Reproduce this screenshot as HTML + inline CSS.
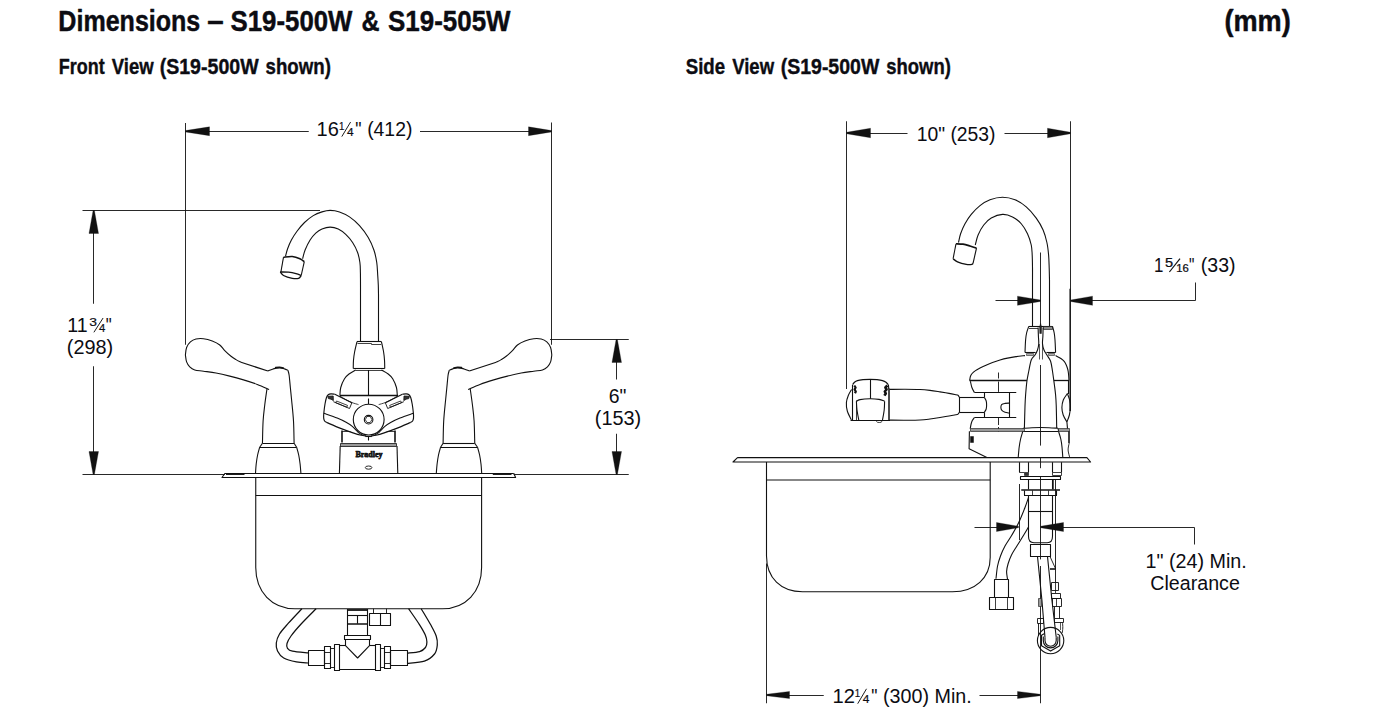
<!DOCTYPE html>
<html><head><meta charset="utf-8">
<style>
html,body{margin:0;padding:0;background:#fff;}
body{width:1392px;height:728px;overflow:hidden;position:relative;font-family:"Liberation Sans",sans-serif;color:#0c0c12;}
.t{position:absolute;white-space:nowrap;transform-origin:0 0;font-weight:bold;line-height:1;}
svg{position:absolute;left:0;top:0;}
svg text{font-family:"Liberation Sans",sans-serif;fill:#0c0c12;}
</style></head><body>
<svg width="1392" height="728" viewBox="0 0 1392 728" fill="none" stroke="#111" stroke-width="1.1" stroke-linecap="butt" stroke-linejoin="round">
<g stroke-width="0.9">
<path d="M185.5,123 L185.5,344.75"/>
<path d="M551.5,122.5 L551.5,344.75"/>
<path d="M208,131.5 L308.75,131.5"/>
<path d="M420,131.5 L529,131.5"/>
<path d="M82.5,210.5 L320,210.5"/>
<path d="M93.5,232 L93.5,303.75"/>
<path d="M93.5,366.25 L93.5,452"/>
<path d="M82.5,474.5 L225,474.5"/>
<path d="M513.75,474.5 L628.75,474.5"/>
<path d="M550,339.5 L628.75,339.5"/>
<path d="M616.5,361 L616.5,379.5"/>
<path d="M616.5,433.75 L616.5,452"/>
</g>
<path d="M185.5,130.6 L209.5,126.85 L209.5,135.65 L185.5,131.9 Z" stroke-width="0.3" fill="#111"/>
<path d="M551.5,131.9 L528.5,135.65 L528.5,126.85 L551.5,130.6 Z" stroke-width="0.3" fill="#111"/>
<path d="M94.4,210.5 L98.5,233.5 L89,233.5 L93.1,210.5 Z" stroke-width="0.3" fill="#111"/>
<path d="M93.1,474.5 L89,451.5 L98.5,451.5 L94.4,474.5 Z" stroke-width="0.3" fill="#111"/>
<path d="M617.4,339.5 L621.5,362.5 L612,362.5 L616.1,339.5 Z" stroke-width="0.3" fill="#111"/>
<path d="M616.1,474.5 L612,451.5 L621.5,451.5 L617.4,474.5 Z" stroke-width="0.3" fill="#111"/>
<path d="M285.5,256.25 C285.85,255 286.62,251.46 287.6,248.75 C288.58,246.04 289.83,242.92 291.4,240 C292.97,237.08 294.82,234.17 297,231.25 C299.18,228.33 301.79,225.11 304.5,222.5 C307.21,219.89 310.33,217.37 313.25,215.6 C316.17,213.83 319.19,212.77 322,211.9 C324.81,211.03 327.18,210.4 330.1,210.4 C333.02,210.4 336.27,210.82 339.5,211.9 C342.73,212.98 346.17,214.62 349.5,216.9 C352.83,219.18 356.38,222.17 359.5,225.6 C362.62,229.03 365.85,233.43 368.25,237.5 C370.65,241.57 372.48,245.83 373.9,250 C375.32,254.17 376.12,258.33 376.75,262.5 C377.38,266.67 377.44,271.25 377.7,275 C377.96,278.75 378.17,281.67 378.3,285 C378.43,288.33 378.47,293.33 378.5,295"/>
<path d="M378.5,295 L378.5,341"/>
<path d="M302.6,258.75 C303.02,257.29 303.85,253.12 305.1,250 C306.35,246.88 308.33,242.82 310.1,240 C311.88,237.18 313.77,234.93 315.75,233.1 C317.73,231.27 319.61,230 322,229 C324.39,228 327.39,227.1 330.1,227.1 C332.81,227.1 335.64,227.78 338.25,229 C340.86,230.22 343.36,232.15 345.75,234.4 C348.14,236.65 350.62,239.48 352.6,242.5 C354.58,245.52 356.38,249.17 357.6,252.5 C358.82,255.83 359.43,259.17 359.9,262.5 C360.37,265.83 360.3,268.75 360.4,272.5 C360.5,276.25 360.48,281.25 360.5,285 C360.52,288.75 360.5,293.33 360.5,295"/>
<path d="M360.5,295 L360.5,341"/>
<path d="M283.5,257.2 C284.97,257.08 289.57,256.25 292.3,256.5 C295.03,256.75 297.9,257.85 299.9,258.7 C301.9,259.55 303.57,261.12 304.3,261.6" stroke-width="1.6"/>
<path d="M283.5,257.2 L280.9,272"/>
<path d="M304.3,261.6 L301.2,275.5"/>
<path d="M280.3,272 C281.67,272.03 285.88,271.93 288.5,272.2 C291.12,272.47 293.88,273.05 296,273.6 C298.12,274.15 300.33,275.18 301.2,275.5" stroke-width="1.3"/>
<path d="M280.3,272 C280.83,272.58 281.5,274.45 283.5,275.5 C285.5,276.55 289.78,277.83 292.3,278.3 C294.82,278.77 297.12,278.77 298.6,278.3 C300.08,277.83 300.77,275.97 301.2,275.5" stroke-width="1.3"/>
<path d="M357,341.5 L381.4,341.5"/>
<path d="M357.5,343.5 L371.5,343.5 L371.5,344.5 L381.2,344.5" stroke-width="0.8"/>
<path d="M357,341.6 C356.6,343.33 355.18,348.93 354.6,352 C354.02,355.07 353.73,357.25 353.5,360 C353.27,362.75 353.29,367.08 353.25,368.5"/>
<path d="M381.4,341.6 C381.77,343.33 383.08,348.93 383.6,352 C384.12,355.07 384.31,357.25 384.5,360 C384.69,362.75 384.71,367.08 384.75,368.5"/>
<path d="M353.25,368.5 L384.75,368.5"/>
<path d="M355.75,370.5 L383.25,370.5" stroke-width="0.8"/>
<path d="M355.75,370 C354.62,370.67 350.88,372.54 349,374 C347.12,375.46 345.88,376.5 344.5,378.75 C343.12,381 341.52,384.69 340.75,387.5 C339.98,390.31 340.04,394.25 339.9,395.6"/>
<path d="M381.45,370 C382.58,370.67 386.33,372.54 388.2,374 C390.08,375.46 391.33,376.5 392.7,378.75 C394.08,381 395.68,384.69 396.45,387.5 C397.22,390.31 397.16,394.25 397.3,395.6"/>
<path d="M339.9,395.5 L398,395.5" stroke-width="1.4"/>
<path d="M368.5,370 L368.5,396"/>
<path d="M368.5,398.5 L368.5,404"/>
<path d="M351.9,402.7 L334.8,394.26" stroke-width="1.15"/>
<path d="M334.8,394.26 C334.17,394.2 332.1,393.81 331,393.9 C329.9,393.99 328.95,394.2 328.2,394.8 C327.45,395.4 327.03,395.97 326.5,397.5 C325.97,399.03 325.45,401.37 325,404 C324.55,406.63 324.02,410.95 323.8,413.3 C323.58,415.65 323.57,416.82 323.7,418.1 C323.83,419.38 324.07,420.25 324.6,421 C325.13,421.75 326.52,422.33 326.9,422.6" stroke-width="1.15"/>
<path d="M326.9,422.6 C329.18,423.57 336.25,426.68 340.6,428.4 C344.95,430.12 349.57,431.75 353,432.9 C356.43,434.05 359.03,434.8 361.2,435.3 C363.37,435.8 365.2,435.8 366,435.9" stroke-width="1.15"/>
<path d="M323.8,413.3 C326.03,414.1 333.48,416.6 337.2,418.1 C340.92,419.6 343.58,420.92 346.1,422.3 C348.62,423.68 350.25,424.68 352.3,426.4 C354.35,428.12 356.68,431.17 358.4,432.6 C360.12,434.03 361.9,434.6 362.6,435"/>
<path d="M351.9,402.7 L349.5,408.5 L333.4,401.7" stroke-width="0.9"/>
<path d="M336.5,401 L347.5,405.4 L346.8,407.2 L335.65,402.7 Z" stroke-width="0.8"/>
<path d="M327.8,396.3 L333.2,396 L333.4,400.6 L331,399.2 L328.4,398.6 Z" stroke-width="0.8" fill="#333"/>
<path d="M340,396.2 C341,396.8 344,398.73 346,399.8 C348,400.87 349.92,401.8 352,402.6 C354.08,403.4 357.42,404.27 358.5,404.6" stroke-width="0.8"/>
<path d="M385.3,402.7 L402.4,394.26" stroke-width="1.15"/>
<path d="M402.4,394.26 C403.03,394.2 405.1,393.81 406.2,393.9 C407.3,393.99 408.25,394.2 409,394.8 C409.75,395.4 410.17,395.97 410.7,397.5 C411.23,399.03 411.75,401.37 412.2,404 C412.65,406.63 413.18,410.95 413.4,413.3 C413.62,415.65 413.63,416.82 413.5,418.1 C413.37,419.38 413.13,420.25 412.6,421 C412.07,421.75 410.68,422.33 410.3,422.6" stroke-width="1.15"/>
<path d="M410.3,422.6 C408.02,423.57 400.95,426.68 396.6,428.4 C392.25,430.12 387.63,431.75 384.2,432.9 C380.77,434.05 378.17,434.8 376,435.3 C373.83,435.8 372,435.8 371.2,435.9" stroke-width="1.15"/>
<path d="M413.4,413.3 C411.17,414.1 403.72,416.6 400,418.1 C396.28,419.6 393.62,420.92 391.1,422.3 C388.58,423.68 386.95,424.68 384.9,426.4 C382.85,428.12 380.52,431.17 378.8,432.6 C377.08,434.03 375.3,434.6 374.6,435"/>
<path d="M385.3,402.7 L387.7,408.5 L403.8,401.7" stroke-width="0.9"/>
<path d="M400.7,401 L389.7,405.4 L390.4,407.2 L401.55,402.7 Z" stroke-width="0.8"/>
<path d="M409.4,396.3 L404,396 L403.8,400.6 L406.2,399.2 L408.8,398.6 Z" stroke-width="0.8" fill="#333"/>
<path d="M397.2,396.2 C396.2,396.8 393.2,398.73 391.2,399.8 C389.2,400.87 387.28,401.8 385.2,402.6 C383.12,403.4 379.78,404.27 378.7,404.6" stroke-width="0.8"/>
<circle cx="368.7" cy="419.6" r="15.4" fill="#fff"/>
<circle cx="368.6" cy="419.65" r="4.3"/>
<path d="M371.9,419.65 L370.25,422.5 L366.95,422.5 L365.3,419.65 L366.95,416.5 L370.25,416.5 Z" stroke-width="0.8"/>
<path d="M365.3,436.5 L371.9,436.5"/>
<path d="M368.5,436.9 L368.5,440.5"/>
<path d="M342,430.5 L342,442.5" stroke-width="1.6"/>
<path d="M395,430.5 L395,442.5" stroke-width="1.6"/>
<path d="M342,431.5 L350.5,431.5" stroke-width="0.8"/>
<path d="M395.2,431.5 L386.7,431.5" stroke-width="0.8"/>
<path d="M340.5,443.5 L396.5,443.5 L396.5,446.5 L340.5,446.5 Z" stroke-width="0.8" fill="#999"/>
<path d="M340.2,446.1 L339.4,473.4"/>
<path d="M397,446.1 L397.8,473.4"/>
<ellipse cx="368.6" cy="467.6" rx="3.3" ry="1.6" stroke-width="0.9"/>
<text x="369" y="457.3" font-size="9.2" style="font-family:'Liberation Serif',serif;font-weight:bold" text-anchor="middle" stroke="#111" stroke-width="0.75" textLength="27.2" lengthAdjust="spacingAndGlyphs">Bradley</text>
<path d="M185.4,355 C185.6,353.75 185.77,349.68 186.6,347.5 C187.43,345.32 188.83,343.32 190.4,341.9 C191.97,340.48 193.82,339.53 196,339 C198.18,338.47 200.79,338.37 203.5,338.7 C206.21,339.03 209.54,339.95 212.25,341 C214.96,342.05 217.67,343.4 219.75,345 C221.83,346.6 222.88,348.73 224.75,350.6 C226.62,352.48 229.12,354.75 231,356.25 C232.88,357.75 234.33,358.6 236,359.6 C237.67,360.6 240.17,361.81 241,362.25"/>
<path d="M241,362.25 L267.9,371" stroke-width="1.3"/>
<path d="M185.4,355 C185.6,356.15 185.88,359.92 186.6,361.9 C187.32,363.88 188.39,365.55 189.75,366.9 C191.11,368.25 192.46,369.28 194.75,370 C197.04,370.72 199.96,370.7 203.5,371.2 C207.04,371.7 211.62,372.18 216,373 C220.38,373.82 225.17,374.95 229.75,376.1 C234.33,377.25 238.92,378.52 243.5,379.9 C248.08,381.28 252.98,382.8 257.25,384.4 C261.52,386 267.12,388.65 269.1,389.5"/>
<path d="M267.9,371 C268.67,370.7 271.23,369.63 272.5,369.2 C273.77,368.77 274.25,368.62 275.5,368.4 C276.75,368.18 278.5,367.82 280,367.9 C281.5,367.98 283.18,368.51 284.5,368.9 C285.82,369.29 287.33,370.02 287.9,370.25"/>
<path d="M275,367.8 C275.75,367.7 278,367.13 279.5,367.2 C281,367.27 283.25,368.03 284,368.2" stroke-width="1.6"/>
<path d="M287.9,370.25 C288.1,371.04 288.68,372.04 289.1,375 C289.52,377.96 289.98,383.83 290.4,388 C290.82,392.17 291.08,394.5 291.6,400 C292.12,405.5 293.08,413.8 293.5,421 C293.92,428.2 294,439.5 294.1,443.2"/>
<path d="M267,388.75 C266.62,391.46 265.4,399.62 264.75,405 C264.1,410.38 263.48,414.63 263.1,421 C262.72,427.37 262.56,439.5 262.45,443.2"/>
<path d="M262.45,443.5 L294.1,443.5"/>
<path d="M259.7,447.5 L296.6,447.5"/>
<path d="M262.45,443.2 L259.7,447.2"/>
<path d="M294.1,443.2 L296.6,447.2"/>
<path d="M259.7,447.2 C259.35,448.5 258.18,452.2 257.6,455 C257.02,457.8 256.55,460.95 256.2,464 C255.85,467.05 255.62,471.75 255.5,473.3"/>
<path d="M296.6,447.2 C296.95,448.5 298.12,452.2 298.7,455 C299.28,457.8 299.73,460.95 300.1,464 C300.47,467.05 300.77,471.75 300.9,473.3"/>
<path d="M551.8,355 C551.6,353.75 551.43,349.68 550.6,347.5 C549.77,345.32 548.37,343.32 546.8,341.9 C545.23,340.48 543.38,339.53 541.2,339 C539.02,338.47 536.41,338.37 533.7,338.7 C530.99,339.03 527.66,339.95 524.95,341 C522.24,342.05 519.53,343.4 517.45,345 C515.37,346.6 514.33,348.73 512.45,350.6 C510.58,352.48 508.08,354.75 506.2,356.25 C504.33,357.75 502.87,358.6 501.2,359.6 C499.53,360.6 497.03,361.81 496.2,362.25"/>
<path d="M496.2,362.25 L469.3,371" stroke-width="1.3"/>
<path d="M551.8,355 C551.6,356.15 551.33,359.92 550.6,361.9 C549.88,363.88 548.81,365.55 547.45,366.9 C546.09,368.25 544.74,369.28 542.45,370 C540.16,370.72 537.24,370.7 533.7,371.2 C530.16,371.7 525.58,372.18 521.2,373 C516.83,373.82 512.03,374.95 507.45,376.1 C502.87,377.25 498.28,378.52 493.7,379.9 C489.12,381.28 484.22,382.8 479.95,384.4 C475.68,386 470.08,388.65 468.1,389.5"/>
<path d="M469.3,371 C468.53,370.7 465.97,369.63 464.7,369.2 C463.43,368.77 462.95,368.62 461.7,368.4 C460.45,368.18 458.7,367.82 457.2,367.9 C455.7,367.98 454.02,368.51 452.7,368.9 C451.38,369.29 449.87,370.02 449.3,370.25"/>
<path d="M462.2,367.8 C461.45,367.7 459.2,367.13 457.7,367.2 C456.2,367.27 453.95,368.03 453.2,368.2" stroke-width="1.6"/>
<path d="M449.3,370.25 C449.1,371.04 448.52,372.04 448.1,375 C447.68,377.96 447.22,383.83 446.8,388 C446.38,392.17 446.12,394.5 445.6,400 C445.08,405.5 444.12,413.8 443.7,421 C443.28,428.2 443.2,439.5 443.1,443.2"/>
<path d="M470.2,388.75 C470.58,391.46 471.8,399.62 472.45,405 C473.1,410.38 473.72,414.63 474.1,421 C474.48,427.37 474.64,439.5 474.75,443.2"/>
<path d="M474.75,443.5 L443.1,443.5"/>
<path d="M477.5,447.5 L440.6,447.5"/>
<path d="M474.75,443.2 L477.5,447.2"/>
<path d="M443.1,443.2 L440.6,447.2"/>
<path d="M477.5,447.2 C477.85,448.5 479.02,452.2 479.6,455 C480.18,457.8 480.65,460.95 481,464 C481.35,467.05 481.58,471.75 481.7,473.3"/>
<path d="M440.6,447.2 C440.25,448.5 439.08,452.2 438.5,455 C437.92,457.8 437.47,460.95 437.1,464 C436.73,467.05 436.43,471.75 436.3,473.3"/>
<path d="M225,473.5 L513.75,473.5"/>
<path d="M225,473.3 L222,477.5 L515.6,477.5 L513.75,473.3"/>
<path d="M226,474.2 L244.5,474.2" stroke-width="1.5"/>
<path d="M492.8,474.2 L511.5,474.2" stroke-width="1.5"/>
<path d="M255.75,477.5 L255.75,567.5 C255.75,592 272,608.7 295,608.7 L442.5,608.7 C465.5,608.7 481.6,592 481.6,567.5 L481.6,477.5"/>
<path d="M255.75,495.5 L481.6,495.5"/>
<path d="M301.9,608.7 C299.65,611.12 292.13,618.98 288.4,623.2 C284.67,627.42 281.52,630.7 279.5,634 C277.48,637.3 276.63,640.17 276.3,643 C275.97,645.83 276.27,648.5 277.5,651 C278.73,653.5 280.55,656.18 283.7,658 C286.85,659.82 292.32,661.07 296.4,661.9 C300.48,662.73 306.23,662.82 308.2,663" stroke-width="1.25"/>
<path d="M316.1,608.7 C313.6,611.25 305.28,619.45 301.1,624 C296.92,628.55 293.35,632.75 291,636 C288.65,639.25 287.58,641.45 287,643.5 C286.42,645.55 286.58,647.02 287.5,648.3 C288.42,649.58 289.05,650.43 292.5,651.2 C295.95,651.97 305.58,652.62 308.2,652.9" stroke-width="1.25"/>
<path d="M421.2,608.7 C422.78,611.38 428.2,620.25 430.7,624.8 C433.2,629.35 435.1,632.63 436.2,636 C437.3,639.37 437.58,642 437.3,645 C437.02,648 436.65,651.32 434.5,654 C432.35,656.68 428.98,659.52 424.4,661.1 C419.82,662.68 409.9,663.1 407,663.5" stroke-width="1.25"/>
<path d="M408.6,608.7 C410.43,611.38 416.82,620.42 419.6,624.8 C422.38,629.18 424.08,632.13 425.3,635 C426.52,637.87 426.87,639.92 426.9,642 C426.93,644.08 426.72,645.9 425.5,647.5 C424.28,649.1 422.68,650.65 419.6,651.6 C416.52,652.55 409.1,652.93 407,653.2" stroke-width="1.25"/>
<path d="M308.5,650.5 L324.5,650.5 L324.5,665.5 L308.5,665.5 Z"/>
<path d="M324.5,646.5 L330.5,646.5 L330.5,668.5 L324.5,668.5 Z"/>
<path d="M324.8,652.5 L330.3,652.5" stroke-width="0.9"/>
<path d="M324.8,663.5 L330.3,663.5" stroke-width="0.9"/>
<path d="M330.5,648.5 L334.5,648.5 L334.5,667.5 L330.5,667.5 Z" stroke-width="0.9"/>
<path d="M334.5,644.5 L339.5,644.5 L339.5,670.5 L334.5,670.5 Z"/>
<path d="M390.5,650.5 L407.5,650.5 L407.5,665.5 L390.5,665.5 Z"/>
<path d="M384.5,646.5 L390.5,646.5 L390.5,668.5 L384.5,668.5 Z"/>
<path d="M384.9,652.5 L390.4,652.5" stroke-width="0.9"/>
<path d="M384.9,663.5 L390.4,663.5" stroke-width="0.9"/>
<path d="M380.5,648.5 L384.5,648.5 L384.5,667.5 L380.5,667.5 Z" stroke-width="0.9"/>
<path d="M375.5,644.5 L380.5,644.5 L380.5,670.5 L375.5,670.5 Z"/>
<path d="M339.5,645.5 L345.3,645.5"/>
<path d="M369.9,645.5 L375.85,645.5"/>
<path d="M339.5,669.5 L375.85,669.5"/>
<path d="M345.5,639.3 L345.5,645.6 L357.6,658 L369.5,645.6 L369.5,639.3"/>
<path d="M344.5,635.5 L370.5,635.5 L370.5,639.5 L344.5,639.5 Z"/>
<path d="M347.5,609 L347.5,635.5"/>
<path d="M367.5,609 L367.5,635.5"/>
<path d="M347.7,610 L367.5,610" stroke-width="1.8"/>
<path d="M347.7,615.5 L367.5,615.5"/>
<path d="M347.7,624 L367.5,624" stroke-width="1.5"/>
<path d="M357.5,615.3 L357.5,623.7"/>
<path d="M369.5,613.5 L390.5,613.5 L390.5,625.5 L369.5,625.5 Z"/>
<path d="M380.5,613.4 L380.5,625.1"/>
<path d="M373.5,608.7 L373.5,613.4" stroke-width="0.9"/>
<path d="M386.5,608.7 L386.5,613.4" stroke-width="0.9"/>
<g stroke-width="0.9">
<path d="M846.5,121.25 L846.5,389"/>
<path d="M1070.5,121.25 L1070.5,289"/>
<path d="M869,133.5 L907.5,133.5"/>
<path d="M1004.5,133.5 L1048,133.5"/>
<path d="M995.5,300.5 L1018.5,300.5"/>
<path d="M1091.5,300.5 L1195.5,300.5 L1195.5,282.5"/>
<path d="M974.5,527.5 L997,527.5"/>
<path d="M1062.5,527.5 L1194.5,527.5 L1194.5,544.5"/>
<path d="M1019.5,484 L1019.5,540"/>
<path d="M1040.5,566 L1040.5,703.25"/>
<path d="M766.5,563.5 L766.5,703.25"/>
<path d="M788,695.5 L823.75,695.5"/>
<path d="M979.5,695.5 L1018.5,695.5"/>
</g>
<path d="M1070.2,288.75 L1070.2,411" stroke-width="1.5"/>
<path d="M846.5,132.35 L870.5,128.25 L870.5,137.75 L846.5,133.65 Z" stroke-width="0.3" fill="#111"/>
<path d="M1070.5,133.65 L1047.5,137.75 L1047.5,128.25 L1070.5,132.35 Z" stroke-width="0.3" fill="#111"/>
<path d="M1040.5,301.4 L1017.5,305.35 L1017.5,296.15 L1040.5,300.1 Z" stroke-width="0.3" fill="#111"/>
<path d="M1070.5,300.1 L1092.5,296.15 L1092.5,305.35 L1070.5,301.4 Z" stroke-width="0.3" fill="#111"/>
<path d="M1018.5,527.65 L996.5,531.5 L996.5,522.5 L1018.5,526.35 Z" stroke-width="0.3" fill="#111"/>
<path d="M1040.5,526.35 L1063.5,522.5 L1063.5,531.5 L1040.5,527.65 Z" stroke-width="0.3" fill="#111"/>
<path d="M766.5,694.35 L789.5,691.4 L789.5,698.6 L766.5,695.65 Z" stroke-width="0.3" fill="#111"/>
<path d="M1040.5,695.65 L1017.5,698.6 L1017.5,691.4 L1040.5,694.35 Z" stroke-width="0.3" fill="#111"/>
<path d="M958.5,242.5 C958.85,241.04 959.52,236.88 960.6,233.75 C961.68,230.62 963.23,226.97 965,223.75 C966.77,220.53 968.75,217.43 971.25,214.4 C973.75,211.38 976.88,208.04 980,205.6 C983.12,203.16 986.25,201.14 990,199.75 C993.75,198.36 998.33,197.25 1002.5,197.25 C1006.67,197.25 1011.04,198.14 1015,199.75 C1018.96,201.36 1022.71,203.84 1026.25,206.9 C1029.79,209.96 1033.44,214.25 1036.25,218.1 C1039.06,221.95 1041.32,225.93 1043.1,230 C1044.88,234.07 1045.98,238.33 1046.9,242.5 C1047.82,246.67 1048.22,250.75 1048.6,255 C1048.98,259.25 1049.05,263.83 1049.2,268 C1049.35,272.17 1049.45,278 1049.5,280"/>
<path d="M1049.5,280 L1049.5,326.25"/>
<path d="M975.25,245 C975.73,243.33 976.68,238.33 978.1,235 C979.52,231.67 981.56,227.82 983.75,225 C985.94,222.18 988.12,219.87 991.25,218.1 C994.38,216.33 998.96,214.6 1002.5,214.4 C1006.04,214.2 1009.38,215.34 1012.5,216.9 C1015.62,218.46 1018.75,220.94 1021.25,223.75 C1023.75,226.56 1025.83,230.21 1027.5,233.75 C1029.17,237.29 1030.47,241.46 1031.25,245 C1032.03,248.54 1031.99,251.17 1032.2,255 C1032.41,258.83 1032.45,263.83 1032.5,268 C1032.55,272.17 1032.5,278 1032.5,280"/>
<path d="M1032.5,280 L1032.5,326.25"/>
<path d="M1040.5,252.5 L1040.5,326" stroke-width="0.9"/>
<path d="M956,243.75 C957.17,243.82 960.67,243.82 963,244.2 C965.33,244.57 967.75,245.35 970,246 C972.25,246.65 975.42,247.75 976.5,248.1" stroke-width="1.7"/>
<path d="M956,243.75 L953.1,258.75"/>
<path d="M976.5,248.1 L973.1,263.1"/>
<path d="M953.1,258.75 C953.83,259.27 955.31,260.96 957.5,261.9 C959.69,262.84 963.85,263.98 966.25,264.4 C968.65,264.82 970.76,264.62 971.9,264.4 C973.04,264.18 972.9,263.32 973.1,263.1" stroke-width="1.4"/>
<path d="M1028.75,326.5 L1052.5,326.5"/>
<path d="M1029,328.5 L1038,328.5" stroke-width="0.8"/>
<path d="M1043.5,326.5 L1052.5,326.5 L1052.5,329.5 L1043.5,329.5 Z" stroke-width="0.6" fill="#888"/>
<path d="M1028.75,326.4 C1028.39,327.5 1027.12,330.73 1026.6,333 C1026.07,335.27 1025.87,336.75 1025.6,340 C1025.33,343.25 1025.1,350.42 1025,352.5"/>
<path d="M1052.5,326.4 C1052.78,327.5 1053.78,330.73 1054.2,333 C1054.62,335.27 1054.77,336.75 1055,340 C1055.23,343.25 1055.5,350.42 1055.6,352.5"/>
<path d="M1025,352.5 L1035.6,352.5"/>
<path d="M1046.4,352.5 L1055.6,352.5"/>
<path d="M1026.5,353.5 L1033.5,353.5 L1033.5,355.5 L1026.5,355.5 Z" stroke-width="0.5" fill="#aaa"/>
<path d="M1048.5,353.5 L1054.5,353.5 L1054.5,355.5 L1048.5,355.5 Z" stroke-width="0.5" fill="#aaa"/>
<path d="M1038.1,327.5 C1038.15,328.92 1038.29,333.29 1038.4,336 C1038.51,338.71 1038.9,341.42 1038.75,343.75 C1038.6,346.08 1038.12,348.12 1037.5,350 C1036.88,351.88 1036.04,353.33 1035,355 C1033.96,356.67 1032.29,357.29 1031.25,360 C1030.21,362.71 1029.47,367.71 1028.75,371.25 C1028.03,374.79 1027.43,377.29 1026.9,381.25 C1026.38,385.21 1025.92,390.88 1025.6,395 C1025.28,399.12 1025.2,400.48 1025,406 C1024.8,411.52 1024.5,424.42 1024.4,428.1"/>
<path d="M1043.1,327.5 C1043.07,328.92 1043,333.29 1042.9,336 C1042.8,338.71 1042.32,341.42 1042.5,343.75 C1042.68,346.08 1043.27,348.12 1044,350 C1044.73,351.88 1045.8,353.12 1046.9,355 C1048,356.88 1049.67,358.54 1050.6,361.25 C1051.53,363.96 1051.87,367.29 1052.5,371.25 C1053.13,375.21 1053.88,381.04 1054.4,385 C1054.92,388.96 1055.29,391.5 1055.6,395 C1055.91,398.5 1056.07,400.48 1056.25,406 C1056.43,411.52 1056.62,424.42 1056.7,428.1"/>
<path d="M1040.6,323.5 L1041.6,327 L1041.4,333.5 L1039.8,333.5 L1039.6,327 Z" stroke-width="0.5" fill="#222"/>
<path d="M1039.5,344 L1039.5,359.5" stroke-width="0.7"/>
<path d="M1042.5,344 L1042.5,359.5" stroke-width="0.7"/>
<path d="M1040.5,365 L1040.5,445.6" stroke-width="0.9"/>
<path d="M1040.5,458 L1040.5,468.2" stroke-width="0.9"/>
<path d="M1023.1,428.3 C1024.58,428.2 1029.08,427.83 1032,427.7 C1034.92,427.57 1037.77,427.5 1040.6,427.5 C1043.43,427.5 1046.08,427.57 1049,427.7 C1051.92,427.83 1056.58,428.2 1058.1,428.3"/>
<path d="M1022.6,431.5 L1058.7,431.5"/>
<path d="M1023.1,428.3 L1022.6,431.9"/>
<path d="M1058.1,428.3 L1058.7,431.9"/>
<path d="M1022.6,431.9 C1022.27,433.08 1021.17,436.48 1020.6,439 C1020.03,441.52 1019.6,443.92 1019.2,447 C1018.8,450.08 1018.37,455.75 1018.2,457.5"/>
<path d="M1058.7,431.9 C1059.05,433.08 1060.25,436.48 1060.8,439 C1061.35,441.52 1061.67,443.92 1062,447 C1062.33,450.08 1062.67,455.75 1062.8,457.5"/>
<path d="M969.7,380.4 C969.82,379.75 970.03,377.61 970.4,376.5 C970.77,375.39 971.05,374.73 971.9,373.75 C972.75,372.77 974.15,371.54 975.5,370.6 C976.85,369.66 978.25,369 980,368.1 C981.75,367.2 983.92,366.13 986,365.2 C988.08,364.27 990.17,363.37 992.5,362.5 C994.83,361.63 997.5,360.73 1000,360 C1002.5,359.27 1004.83,358.67 1007.5,358.1 C1010.17,357.53 1013.08,357.02 1016,356.6 C1018.92,356.18 1023.5,355.77 1025,355.6"/>
<path d="M1055.6,355.6 C1056.54,356.12 1059.78,357.75 1061.25,358.75 C1062.72,359.75 1063.57,360.56 1064.4,361.6 C1065.23,362.64 1065.68,363.68 1066.25,365 C1066.82,366.32 1067.42,368.04 1067.8,369.5 C1068.17,370.96 1068.3,371.9 1068.5,373.75 C1068.7,375.6 1068.92,379.46 1069,380.6"/>
<path d="M969.4,380.5 L1026.9,380.5" stroke-width="1.3"/>
<path d="M1053.9,380.5 L1069,380.5" stroke-width="1.3"/>
<path d="M970.4,381.25 C970.65,382.29 971.23,385.62 971.9,387.5 C972.57,389.38 973.98,391.67 974.4,392.5"/>
<path d="M974.4,392.5 L1016.25,392.5"/>
<path d="M998.5,372.5 L998.5,378.5" stroke-width="0.9"/>
<path d="M998.5,381.5 L998.5,391.9" stroke-width="0.9"/>
<path d="M998.5,417.5 L998.5,425" stroke-width="0.9"/>
<path d="M998.5,427 L998.5,431.5" stroke-width="0.9"/>
<path d="M984.5,392.6 L984.5,397.5"/>
<path d="M984.5,412.25 L984.5,417.5"/>
<path d="M1009.5,392.6 L1009.5,417.5"/>
<path d="M1009.5,403.1 C1008.75,403.15 1006.32,403.15 1005,403.4 C1003.68,403.65 1002.28,403.88 1001.6,404.6 C1000.92,405.32 1000.85,406.73 1000.9,407.7 C1000.95,408.67 1001.22,409.65 1001.9,410.4 C1002.58,411.15 1003.73,411.75 1005,412.2 C1006.27,412.65 1008.75,412.95 1009.5,413.1"/>
<path d="M974.4,417.5 L1016.25,417.5"/>
<path d="M974.4,417.5 C974.05,418 972.85,419.42 972.3,420.5 C971.75,421.58 971.45,422.62 971.1,424 C970.75,425.38 970.35,427.96 970.2,428.75"/>
<path d="M970.5,428.5 L1024.5,428.5 L1024.5,431.5 L970.5,431.5 Z" stroke-width="0.6" fill="#999"/>
<path d="M1058.5,428.5 L1069.5,428.5 L1069.5,431.5 L1058.5,431.5 Z" stroke-width="0.6" fill="#999"/>
<path d="M969.4,431.3 L969.1,448.75 L986.9,457.5"/>
<path d="M970.5,436.5 L973.5,436.5 L973.5,442.5 L970.5,442.5 Z" stroke-width="0.5" fill="#111"/>
<path d="M1068.5,380.7 L1068.5,394"/>
<path d="M1067.4,393.5 C1066.72,394.58 1064.22,397.67 1063.3,400 C1062.38,402.33 1061.92,405 1061.9,407.5 C1061.88,410 1062.37,412.6 1063.2,415 C1064.03,417.4 1066.28,420.75 1066.9,421.9"/>
<path d="M1067.4,393.5 C1067.77,394.58 1069.12,397.67 1069.6,400 C1070.08,402.33 1070.33,405 1070.3,407.5 C1070.27,410 1069.97,412.6 1069.4,415 C1068.83,417.4 1067.32,420.75 1066.9,421.9"/>
<path d="M1066.9,421.9 L1067.5,428.5"/>
<path d="M1069,431.3 L1069,443" stroke-width="1.6"/>
<path d="M1069.2,443 C1069.02,444.17 1068.01,447.58 1068.1,450 C1068.19,452.42 1069.47,456.25 1069.75,457.5" stroke-width="0.9"/>
<path d="M851.6,389.4 C851.05,390.42 849.17,393.32 848.3,395.5 C847.43,397.68 846.57,399.92 846.4,402.5 C846.23,405.08 846.47,408.08 847.3,411 C848.13,413.92 850.72,418.5 851.4,420"/>
<path d="M852.5,385 L852.5,420"/>
<path d="M856.5,400.5 L856.5,420" stroke-width="0.8"/>
<path d="M852.6,384.6 C852.92,384.2 853.68,382.87 854.5,382.2 C855.32,381.53 856.08,381.02 857.5,380.6 C858.92,380.18 860.92,379.92 863,379.7 C865.08,379.48 867.67,379.3 870,379.3 C872.33,379.3 874.92,379.48 877,379.7 C879.08,379.92 881,380.18 882.5,380.6 C884,381.02 885.05,381.53 886,382.2 C886.95,382.87 887.83,384.2 888.2,384.6" stroke-width="1.2"/>
<path d="M854.3,385.5 L855.6,387.5 L854.6,389.5 L855.8,391.5 L855,393.2" stroke-width="2.2"/>
<path d="M887.4,385.5 L885.4,387.5 L886.6,389.5 L884.8,391.5 L885.8,393.5 L884.4,395.6" stroke-width="2.6"/>
<path d="M870.5,379.3 L870.5,398.75"/>
<path d="M856.4,401.3 C857,401.02 857.73,400.03 860,399.6 C862.27,399.18 866.83,398.78 870,398.75 C873.17,398.72 876.57,398.99 879,399.4 C881.43,399.81 883.67,400.9 884.6,401.2"/>
<path d="M856.4,401.3 C856.5,402.75 856.61,406.88 857,410 C857.39,413.12 858.46,418.33 858.75,420"/>
<path d="M884.6,401.2 C884.53,402.67 884.55,406.87 884.2,410 C883.85,413.13 882.78,418.33 882.5,420"/>
<path d="M850.6,420.5 L890,420.5"/>
<path d="M876,420.6 C876.25,420.88 876.67,422.02 877.5,422.3 C878.33,422.58 880.17,422.58 881,422.3 C881.83,422.02 882.25,420.88 882.5,420.6" stroke-width="0.8"/>
<path d="M889,388.5 L889,420" stroke-width="1.5"/>
<path d="M888.4,384.6 L888.8,389"/>
<path d="M889.4,389.4 C892,389.37 899.9,389.18 905,389.2 C910.1,389.22 915.83,389.3 920,389.5 C924.17,389.7 926.67,390 930,390.4 C933.33,390.8 936.83,391.4 940,391.9 C943.17,392.4 945.98,392.87 949,393.4 C952.02,393.93 956.58,394.82 958.1,395.1"/>
<path d="M889.4,420.1 C892,420.12 899.9,420.22 905,420.2 C910.1,420.18 915.83,420.2 920,420 C924.17,419.8 926.67,419.42 930,419 C933.33,418.58 936.83,418 940,417.5 C943.17,417 945.98,416.53 949,416 C952.02,415.47 956.58,414.58 958.1,414.3"/>
<path d="M958.1,395.1 L959.5,397.5 L959.5,412 L958.1,414.3"/>
<path d="M959.4,397.5 L984.4,397.5"/>
<path d="M959.4,412.5 L984.4,412.5"/>
<path d="M984.4,397.5 C984.7,398.08 985.83,399.75 986.2,401 C986.57,402.25 986.6,403.67 986.6,405 C986.6,406.33 986.57,407.79 986.2,409 C985.83,410.21 984.7,411.71 984.4,412.25"/>
<path d="M737.5,457.6 L1086.9,457.6 L1090.6,462 L733,462 L737.5,457.6"/>
<path d="M766.5,462 L766.5,556 C766.5,578 781,591.7 802.5,591.7 L952.5,591.7 C975,591.7 990.2,578 990.2,557.5 L990.2,462"/>
<path d="M766.5,480 L990.2,480"/>
<path d="M1019.5,462.2 L1019.5,472.5"/>
<path d="M1028.5,462.2 L1028.5,472.5"/>
<path d="M1052.5,462.2 L1052.5,472.5"/>
<path d="M1061.5,462.2 L1061.5,472.5"/>
<path d="M1024.5,472.5 L1028.5,472.5 L1028.5,475.5 L1024.5,475.5 Z" stroke-width="0.6" fill="#333"/>
<path d="M1052.5,472.5 L1061.5,472.5 L1061.5,475.5 L1052.5,475.5 Z" stroke-width="0.8"/>
<path d="M1019.4,472.5 L1024.4,472.5" stroke-width="0.8"/>
<path d="M1020.5,476.5 L1060.5,476.5 L1060.5,479.5 L1020.5,479.5 Z"/>
<path d="M1028.5,479.4 L1028.5,489.4"/>
<path d="M1052.5,479.4 L1052.5,489.4"/>
<path d="M1040.5,476.5 L1040.5,559.4" stroke-width="0.9"/>
<path d="M1021.25,490 L1060,490" stroke-width="1.6"/>
<path d="M1024.5,490.4 L1024.5,495.5 L1056.5,495.5 L1056.5,490.4"/>
<path d="M1032.5,490.4 L1032.5,495" stroke-width="0.8"/>
<path d="M1048.5,490.4 L1048.5,495" stroke-width="0.8"/>
<path d="M1028.5,495 L1028.5,536.25 C1028.5,541 1030.5,542.75 1034,542.75 L1047.2,542.75 C1050.6,542.75 1052.5,541 1052.5,536.25 L1052.5,495"/>
<path d="M1055.5,479.4 L1055.5,582.5" stroke-width="0.9"/>
<path d="M1053.5,479.4 L1053.5,489.4" stroke-width="0.7"/>
<path d="M1028.5,511.5 L1052.5,511.5"/>
<path d="M1030.5,544.5 L1050.5,544.5 L1050.5,556.5 L1030.5,556.5 Z"/>
<path d="M1028.5,497.5 C1027.92,499.17 1026.62,503.33 1025,507.5 C1023.38,511.67 1020.93,517.92 1018.75,522.5 C1016.57,527.08 1014.19,531.08 1011.9,535 C1009.61,538.92 1006.9,542.5 1005,546 C1003.1,549.5 1001.75,552.62 1000.5,556 C999.25,559.38 998.25,562.46 997.5,566.25 C996.75,570.04 996.25,576.67 996,578.75"/>
<path d="M1028.5,527 C1027.71,528.33 1025.68,531.83 1023.75,535 C1021.82,538.17 1018.94,542.67 1016.9,546 C1014.86,549.33 1012.97,552.04 1011.5,555 C1010.03,557.96 1008.92,561 1008.1,563.75 C1007.28,566.5 1006.7,568.96 1006.6,571.5 C1006.5,574.04 1007.35,577.75 1007.5,579"/>
<path d="M994.5,579.5 L1008.5,579.5 L1008.5,597.5 L994.5,597.5 Z"/>
<path d="M989.5,597.5 L1013.5,597.5 L1013.5,609.5 L989.5,609.5 Z"/>
<path d="M995.5,597 L995.5,609" stroke-width="0.8"/>
<path d="M1007.5,597 L1007.5,609" stroke-width="0.8"/>
<path d="M1037.5,556.5 L1041.9,600 L1045,637.5"/>
<path d="M1047.5,556.5 L1051.9,600 L1056.25,637.5"/>
<path d="M1050,556.5 L1055.6,568.75" stroke-width="0.9"/>
<path d="M1050,569 L1055.6,569" stroke-width="1.6"/>
<path d="M1051.5,582.5 L1058.5,582.5 L1058.5,590.5 L1051.5,590.5 Z" stroke-width="0.9"/>
<path d="M1055.5,582.5 L1055.5,590.6" stroke-width="0.8"/>
<path d="M1051.5,593.5 L1060.5,593.5 L1060.5,598.5 L1051.5,598.5 Z" stroke-width="0.9"/>
<path d="M1052.5,598.5 L1061.5,598.5 L1061.5,606.5 L1052.5,606.5 Z" stroke-width="0.9"/>
<path d="M1056.5,598.75 L1056.5,606.9" stroke-width="0.8"/>
<path d="M1055.5,590.6 L1055.5,593" stroke-width="0.8"/>
<path d="M1059.5,606.9 L1059.5,618.5" stroke-width="0.9"/>
<path d="M1054.5,606.9 L1054.5,618.5" stroke-width="0.9"/>
<path d="M1054.5,618.5 L1063.5,618.5 L1063.5,622.5 L1054.5,622.5 Z" stroke-width="0.9"/>
<path d="M1038.5,598.5 L1041.5,598.5 L1041.5,606.5 L1038.5,606.5 Z" stroke-width="0.6" fill="#999"/>
<path d="M1037.5,618.5 L1043.5,618.5 L1043.5,623.5 L1037.5,623.5 Z" stroke-width="0.9"/>
<path d="M1062.5,622.5 C1062.55,623.42 1062.85,626.25 1062.8,628 C1062.75,629.75 1062.3,632.17 1062.2,633" stroke-width="0.9"/>
<path d="M1038.5,623.1 L1038.5,636" stroke-width="0.9"/>
<path d="M1060.5,622.5 L1060.5,630" stroke-width="0.7"/>
<circle cx="1050.6" cy="640.6" r="13.2"/>
<path d="M1044.6,633.6 L1041.51,635.35 L1041.51,645.85 L1050.6,651.1 L1059.69,645.85 L1059.69,635.35 L1057.4,634"/>
<path d="M1043.3,636.5 L1043.3,640.6 A7.3,7.3 0 0 0 1057.9,640.6 L1057.9,636.5" stroke-width="1.1"/>
<path d="M1045,637.5 L1045,640.6 A5.6,5.6 0 0 0 1056.2,640.6 L1056.2,637.5" stroke-width="1.1"/>
<text transform="translate(58.37,30.7) scale(0.8520,1)" font-size="29.4" font-weight="bold" stroke="#0c0c12" stroke-width="0.45">Dimensions</text>
<text transform="translate(207.21,30.7) scale(1.0050,1)" font-size="29.4" font-weight="bold" stroke="#0c0c12" stroke-width="0.45">–</text>
<text transform="translate(230.54,30.7) scale(0.8779,1)" font-size="29.4" font-weight="bold" stroke="#0c0c12" stroke-width="0.45">S19-500W</text>
<text transform="translate(361.44,30.7) scale(0.8503,1)" font-size="29.4" font-weight="bold" stroke="#0c0c12" stroke-width="0.45">&amp;</text>
<text transform="translate(388.04,30.7) scale(0.8823,1)" font-size="29.4" font-weight="bold" stroke="#0c0c12" stroke-width="0.45">S19-505W</text>
<text transform="translate(1224.46,30.7) scale(0.9227,1)" font-size="29.4" font-weight="bold" stroke="#0c0c12" stroke-width="0.45">(mm)</text>
<text transform="translate(58.83,73.9) scale(0.7957,1)" font-size="22.6" font-weight="bold" stroke="#0c0c12" stroke-width="0.4">Front</text>
<text transform="translate(111.81,73.9) scale(0.8203,1)" font-size="22.6" font-weight="bold" stroke="#0c0c12" stroke-width="0.4">View</text>
<text transform="translate(159.67,73.9) scale(0.8664,1)" font-size="22.6" font-weight="bold" stroke="#0c0c12" stroke-width="0.4">(S19-500W</text>
<text transform="translate(265.6,73.9) scale(0.8254,1)" font-size="22.6" font-weight="bold" stroke="#0c0c12" stroke-width="0.4">shown)</text>
<text transform="translate(685.74,73.9) scale(0.8256,1)" font-size="22.6" font-weight="bold" stroke="#0c0c12" stroke-width="0.4">Side</text>
<text transform="translate(732.16,73.9) scale(0.8203,1)" font-size="22.6" font-weight="bold" stroke="#0c0c12" stroke-width="0.4">View</text>
<text transform="translate(780.67,73.9) scale(0.8633,1)" font-size="22.6" font-weight="bold" stroke="#0c0c12" stroke-width="0.4">(S19-500W</text>
<text transform="translate(886.25,73.9) scale(0.8170,1)" font-size="22.6" font-weight="bold" stroke="#0c0c12" stroke-width="0.4">shown)</text>
<text transform="translate(316.6,136) scale(1.0389,1)" font-size="19.3" stroke="none">16</text>
<text transform="translate(339.07,130.3) scale(0.8444,1)" font-size="11.5" stroke="#0c0c12" stroke-width="0.2">1</text>
<path d="M341.8,136.6 L350.6,122" stroke-width="0.95"/>
<text transform="translate(346.93,136) scale(1.1209,1)" font-size="10.6" stroke="#0c0c12" stroke-width="0.2">4</text>
<text transform="translate(355.25,136) scale(0.9115,1)" font-size="19.3" stroke="none">"</text>
<text transform="translate(367.14,136) scale(1.0047,1)" font-size="19.3" stroke="none">(412)</text>
<text transform="translate(67.23,331.8) scale(1.0136,1)" font-size="19.3" stroke="none">11</text>
<text transform="translate(89.28,326.3) scale(1.1775,1)" font-size="11.8" stroke="#0c0c12" stroke-width="0.2">3</text>
<path d="M93.9,332.3 L103.1,318" stroke-width="0.95"/>
<text transform="translate(99.05,331.8) scale(1.0648,1)" font-size="10.6" stroke="#0c0c12" stroke-width="0.2">4</text>
<text transform="translate(105.79,331.8) scale(0.8636,1)" font-size="19.3" stroke="none">"</text>
<text transform="translate(66.81,353.75) scale(1.0293,1)" font-size="19.3" stroke="none">(298)</text>
<text transform="translate(608.78,403.1) scale(1.0046,1)" font-size="19.3" stroke="none">6"</text>
<text transform="translate(594.81,425) scale(1.0293,1)" font-size="19.3" stroke="none">(153)</text>
<text transform="translate(916.65,140.6) scale(1.0021,1)" font-size="19.3" stroke="none">10" (253)</text>
<text transform="translate(1145.42,567.9) scale(1.0227,1)" font-size="19.3" stroke="none">1" (24) Min.</text>
<text transform="translate(1150.27,589.75) scale(1.0183,1)" font-size="19.3" stroke="none">Clearance</text>
<text transform="translate(832.49,702.8) scale(1.0441,1)" font-size="19.3" stroke="none">12</text>
<text transform="translate(854.87,697.1) scale(0.8444,1)" font-size="11.5" stroke="#0c0c12" stroke-width="0.2">1</text>
<path d="M857.7,703.7 L866.5,688.8" stroke-width="0.95"/>
<text transform="translate(862.73,702.8) scale(1.1209,1)" font-size="10.6" stroke="#0c0c12" stroke-width="0.2">4</text>
<text transform="translate(871.16,702.8) scale(0.9019,1)" font-size="19.3" stroke="none">"</text>
<text transform="translate(883.02,702.8) scale(1.0214,1)" font-size="19.3" stroke="none">(300) Min.</text>
<text transform="translate(1154.03,271.9) scale(0.8745,1)" font-size="19.3" stroke="none">1</text>
<text transform="translate(1165.02,266.6) scale(1.1907,1)" font-size="12.2" stroke="#0c0c12" stroke-width="0.25">5</text>
<path d="M1169.4,272 L1180,258.6" stroke-width="1.2"/>
<text transform="translate(1176.15,271.9) scale(1.0076,1)" font-size="11.2" stroke="#0c0c12" stroke-width="0.25">16</text>
<text transform="translate(1188.95,271.9) scale(0.7868,1)" font-size="19.3" stroke="none">"</text>
<text transform="translate(1200.83,271.9) scale(1.0128,1)" font-size="19.3" stroke="none">(33)</text>
</svg>
</body></html>
